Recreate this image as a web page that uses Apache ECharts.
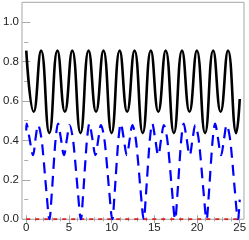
<!DOCTYPE html>
<html><head><meta charset="utf-8">
<script src="https://cdn.jsdelivr.net/npm/echarts@6/dist/echarts.min.js"></script>
<style>html,body{margin:0;padding:0;background:#fff}#c{width:249px;height:240px}</style>
</head><body><div id="c"></div>
<script>
// tick labels
const xTickLabels = [0, 5, 10, 15, 20, 25];
const xMinorTicks = [0,1,2,3,4,5,6,7,8,9,10,11,12,13,14,15,16,17,18,19,20,21,22,23,24,25];
const yTickLabels = [0, 0.2, 0.4, 0.6, 0.8, 1.0];
const yMinorTicks = [0.1, 0.3, 0.5, 0.7, 0.9];

// black solid series (extrema)
const blackX = [0, 0.87, 1.74, 2.70, 3.65, 4.52, 5.39, 6.35, 7.30, 8.17, 9.04, 9.99, 10.94, 11.81, 12.68, 13.64, 14.59, 15.46, 16.33, 17.29, 18.24, 19.11, 19.98, 20.94, 21.89, 22.76, 23.63, 24.59, 25.0];
const blackY = [0.855, 0.545, 0.855, 0.437, 0.855, 0.545, 0.855, 0.437, 0.855, 0.545, 0.855, 0.437, 0.855, 0.545, 0.855, 0.437, 0.855, 0.545, 0.855, 0.437, 0.855, 0.545, 0.855, 0.437, 0.855, 0.545, 0.855, 0.437, 0.61];

// blue dashed series
const blueX = [0, 0.04, 0.34, 0.80, 1.09, 1.39, 1.74, 2.04, 2.34, 2.72,
  2.97, 3.22, 3.47, 3.72, 4.02, 4.42, 4.77, 5.07, 5.42, 5.72, 6.02, 6.40,
  6.65, 6.90, 7.15, 7.40, 7.70, 8.10, 8.45, 8.75, 9.10, 9.40, 9.70, 10.08,
  10.33, 10.58, 10.83, 11.08, 11.38, 11.78, 12.13, 12.43, 12.78, 13.08, 13.38, 13.76,
  14.01, 14.26, 14.51, 14.76, 15.06, 15.46, 15.81, 16.11, 16.46, 16.76, 17.06, 17.44,
  17.69, 17.94, 18.19, 18.44, 18.74, 19.14, 19.49, 19.79, 20.14, 20.44, 20.74, 21.12,
  21.37, 21.62, 21.87, 22.12, 22.42, 22.82, 23.17, 23.47, 23.82, 24.12, 24.42, 24.80,
  25.0];
const blueY = [0.45, 0.485, 0.42, 0.325, 0.41, 0.478, 0.42, 0.30, 0.15, 0,
  0.12, 0.28, 0.42, 0.485, 0.42, 0.325, 0.41, 0.478, 0.42, 0.30, 0.15, 0,
  0.12, 0.28, 0.42, 0.485, 0.42, 0.325, 0.41, 0.478, 0.42, 0.30, 0.15, 0,
  0.12, 0.28, 0.42, 0.485, 0.42, 0.325, 0.41, 0.478, 0.42, 0.30, 0.15, 0,
  0.12, 0.28, 0.42, 0.485, 0.42, 0.325, 0.41, 0.478, 0.42, 0.30, 0.15, 0,
  0.12, 0.28, 0.42, 0.485, 0.42, 0.325, 0.41, 0.478, 0.42, 0.30, 0.15, 0,
  0.12, 0.28, 0.42, 0.485, 0.42, 0.325, 0.41, 0.478, 0.42, 0.30, 0.15, 0,
  0.10];

// red dashed series
const redX = [0, 25];
const redY = [0, 0];

const zip = (xs, ys) => xs.map((x, i) => [x, ys[i]]);
const frameColor = '#a6a6a6';
const labelColor = '#222';
const font = "'Liberation Sans Narrow', 'Liberation Sans', Arial, sans-serif";

function xAx(pos, ticks, len, labels) {
  return {
    type: 'value', position: pos, min: -0.5, max: 25.5,
    axisLine: {show: false}, splitLine: {show: false},
    axisTick: {show: true, inside: true, length: len, customValues: ticks, lineStyle: {color: frameColor, width: 1}},
    axisLabel: labels ? {show: true, customValues: ticks, color: labelColor, fontSize: 11.5, fontFamily: font, margin: 3,
      showMinLabel: true, showMaxLabel: true, hideOverlap: false} : {show: false}
  };
}
function yAx(pos, ticks, len, labels) {
  return {
    type: 'value', position: pos, min: 0, max: 1.1,
    axisLine: {show: false}, splitLine: {show: false},
    axisTick: {show: true, inside: true, length: len, customValues: ticks, lineStyle: {color: frameColor, width: 1}},
    axisLabel: labels ? {show: true, customValues: ticks, color: labelColor, fontSize: 11.5, fontFamily: font, margin: 3,
      showMinLabel: true, showMaxLabel: true, hideOverlap: false,
      formatter: v => v.toFixed(1)} : {show: false}
  };
}

const chart = echarts.init(document.getElementById('c'), null, {renderer: 'canvas'});
chart.setOption({
  animation: false,
  backgroundColor: '#fff',
  grid: {left: 15.6, right: 3.8, top: 2.3, bottom: 20.7, show: true, borderColor: frameColor, borderWidth: 1, backgroundColor: 'transparent'},
  xAxis: [
    xAx('bottom', xTickLabels, 4, true),
    xAx('bottom', xMinorTicks, 2, false),
    xAx('top', xTickLabels, 4, false),
    xAx('top', xMinorTicks, 2, false)
  ],
  yAxis: [
    yAx('left', yTickLabels, 4, true),
    yAx('left', yMinorTicks, 2, false),
    yAx('right', yTickLabels, 4, false),
    yAx('right', yMinorTicks, 2, false)
  ],
  series: [
    {type: 'line', data: zip(redX, redY), showSymbol: false, xAxisIndex: 0, yAxisIndex: 0,
      lineStyle: {color: '#dd2222', width: 2, type: [4, 5]}},
    {type: 'line', data: zip(blueX, blueY), smooth: 0.35, showSymbol: false, xAxisIndex: 0, yAxisIndex: 0,
      lineStyle: {color: '#0000ff', width: 2.2, type: [11, 7]}},
    {type: 'line', data: zip(blackX, blackY), smooth: 0.5, showSymbol: false, xAxisIndex: 0, yAxisIndex: 0,
      lineStyle: {color: '#000', width: 2.6}}
  ]
});
</script>
</body></html>
